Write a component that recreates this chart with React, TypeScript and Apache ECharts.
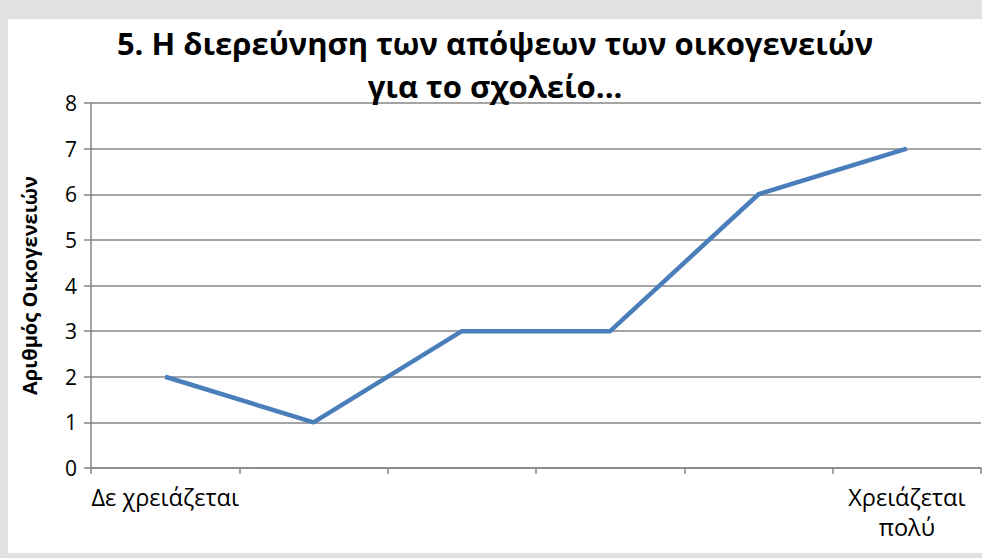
import React, { useEffect, useRef } from "react";
import * as echarts from "echarts";

const titleText = "5. Η διερεύνηση των απόψεων των οικογενειών\nγια το σχολείο...";
const yAxisName = "Αριθμός Οικογενειών";
const categories = ["Δε χρειάζεται", "", "", "", "", "Χρειάζεται\nπολύ"];
const values = [2, 1, 3, 3, 6, 7];
const yMin = 0;
const yMax = 8;
const yInterval = 1;

export default function App() {
  const ref = useRef<HTMLDivElement>(null);
  useEffect(() => {
    if (!ref.current) return;
    const chart = echarts.init(ref.current, undefined, { renderer: "svg" });
    const axisGray = "#868686";
    chart.setOption({
      animation: false,
      backgroundColor: "#ffffff",
      title: {
        text: titleText,
        left: "center",
        top: -3,
        textStyle: {
          fontFamily: "Open Sans",
          fontWeight: "bold",
          fontSize: 31,
          lineHeight: 43,
          color: "#000000",
        },
      },
      grid: { left: 83, top: 84, right: 1, bottom: 85, containLabel: false },
      xAxis: {
        type: "category",
        data: categories,
        boundaryGap: true,
        axisLine: { show: true, lineStyle: { color: axisGray, width: 1.5 } },
        axisTick: { show: true, length: 6, lineStyle: { color: axisGray, width: 1.5 } },
        axisLabel: {
          interval: 0,
          margin: 14,
          fontFamily: "Open Sans",
          fontSize: 23.5,
          lineHeight: 30,
          color: "#000000",
        },
        splitLine: { show: false },
      },
      yAxis: {
        type: "value",
        min: yMin,
        max: yMax,
        interval: yInterval,
        name: yAxisName,
        nameLocation: "middle",
        nameGap: 52,
        nameTextStyle: {
          fontFamily: "Open Sans",
          fontWeight: "bold",
          fontSize: 20,
          color: "#000000",
        },
        axisLine: { show: true, lineStyle: { color: axisGray, width: 1.5 } },
        axisTick: { show: true, length: 7, lineStyle: { color: axisGray, width: 1.5 } },
        axisLabel: {
          margin: 14,
          fontFamily: "Open Sans",
          fontSize: 21,
          color: "#000000",
        },
        splitLine: { show: true, lineStyle: { color: axisGray, width: 1.5 } },
      },
      series: [
        {
          type: "line",
          data: values,
          showSymbol: false,
          symbol: "none",
          lineStyle: { color: "#4a7ebb", width: 4.5 },
          itemStyle: { color: "#4a7ebb" },
        },
      ],
    });
    return () => chart.dispose();
  }, []);
  return (
    <div
      style={{
        position: "fixed",
        left: 0,
        top: 0,
        width: 982,
        height: 558,
        background: "#e1e1e1",
      }}
    >
      <div
        ref={ref}
        style={{ position: "absolute", left: 8, top: 19, width: 974, height: 534 }}
      />
    </div>
  );
}
